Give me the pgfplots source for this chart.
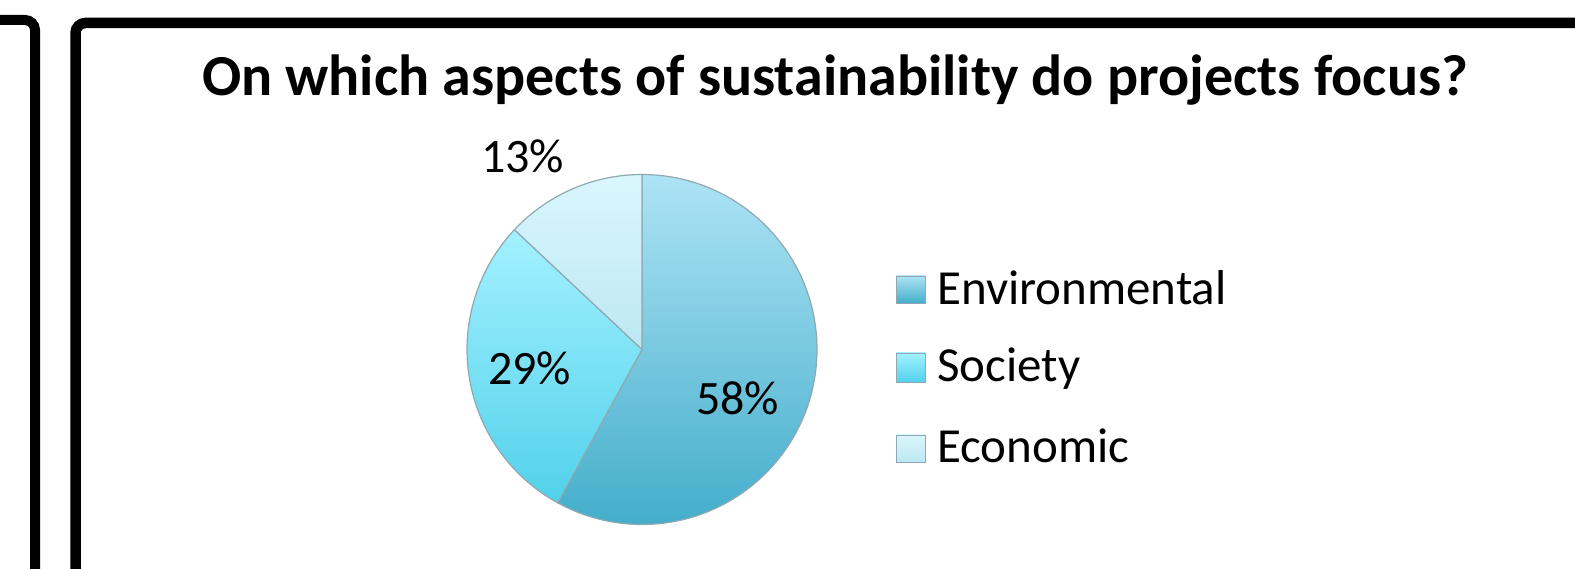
\documentclass[border=0pt]{standalone}
\usepackage{pgfplots}
\pgfplotsset{compat=1.18}
\usepackage{pgfplotstable}
\usepackage{fontspec}
\setmainfont{Carlito}

\definecolor{envTop}{HTML}{ADE3F5}
\definecolor{envBot}{HTML}{44AECB}
\definecolor{socTop}{HTML}{A3F1FF}
\definecolor{socBot}{HTML}{52D1EB}
\definecolor{ecoTop}{HTML}{DAF6FD}
\definecolor{ecoBot}{HTML}{BCE8F3}
\definecolor{edge}{HTML}{8FA9B2}

\pgfplotstableread{
label value
Environmental 58
Society 29
Economic 13
}\piedata

\pgfplotstablegetelem{0}{value}\of\piedata \edef\va{\pgfplotsretval}
\pgfplotstablegetelem{1}{value}\of\piedata \edef\vb{\pgfplotsretval}
\pgfplotstablegetelem{2}{value}\of\piedata \edef\vc{\pgfplotsretval}
\pgfmathsetmacro\aA{90}
\pgfmathsetmacro\aB{90-3.6*\va}
\pgfmathsetmacro\aC{\aB-3.6*\vb}
\pgfmathsetmacro\aD{\aC-3.6*\vc}

\begin{document}
\begin{tikzpicture}
\begin{axis}[hide axis, scale only axis, width=1575pt, height=569pt,
  xmin=0, xmax=1575, ymin=0, ymax=569, clip=false]
% frames
\draw[line width=10pt, rounded corners=10pt] (axis cs:-20,549) -- (axis cs:35,549) -- (axis cs:35,-20);
\draw[line width=10.5pt, rounded corners=10pt] (axis cs:1600,546) -- (axis cs:75.5,546) -- (axis cs:75.5,-20);
% title
\node[font=\fontsize{58}{68}\selectfont\bfseries] at (axis cs:835,489) {On which aspects of sustainability do projects focus?};
% pie slices
\shade[top color=envTop, bottom color=envBot, draw=edge, line width=1.2pt]
  (axis cs:642,219.5) -- ++(\aA:175pt) arc[start angle=\aA, end angle=\aB, radius=175pt] -- cycle;
\shade[top color=socTop, bottom color=socBot, draw=edge, line width=1.2pt]
  (axis cs:642,219.5) -- ++(\aB:175pt) arc[start angle=\aB, end angle=\aC, radius=175pt] -- cycle;
\shade[top color=ecoTop, bottom color=ecoBot, draw=edge, line width=1.2pt]
  (axis cs:642,219.5) -- ++(\aC:175pt) arc[start angle=\aC, end angle=\aD, radius=175pt] -- cycle;
% data labels
\node[anchor=base west, inner sep=0pt, font=\fontsize{48}{56}\selectfont] at (axis cs:481,396) {\vc\%};
\node[anchor=base west, inner sep=0pt, font=\fontsize{48}{56}\selectfont] at (axis cs:488,184) {\vb\%};
\node[anchor=base west, inner sep=0pt, font=\fontsize{48}{56}\selectfont] at (axis cs:696,154) {\va\%};
% legend
\shade[top color=envTop, bottom color=envBot, draw=edge, line width=0.8pt] (axis cs:896,266) rectangle (axis cs:925,293);
\shade[top color=socTop, bottom color=socBot, draw=edge, line width=0.8pt] (axis cs:896,187) rectangle (axis cs:925,216);
\shade[top color=ecoTop, bottom color=ecoBot, draw=edge, line width=0.8pt] (axis cs:896,107) rectangle (axis cs:925,134);
\node[anchor=base west, inner sep=0pt, font=\fontsize{49}{58}\selectfont] at (axis cs:937,264) {Environmental};
\node[anchor=base west, inner sep=0pt, font=\fontsize{49}{58}\selectfont] at (axis cs:937,187) {Society};
\node[anchor=base west, inner sep=0pt, font=\fontsize{49}{58}\selectfont] at (axis cs:937,106) {Economic};
\end{axis}
\pgfresetboundingbox
\useasboundingbox (current axis.south west) rectangle (current axis.north east);
\end{tikzpicture}
\end{document}
